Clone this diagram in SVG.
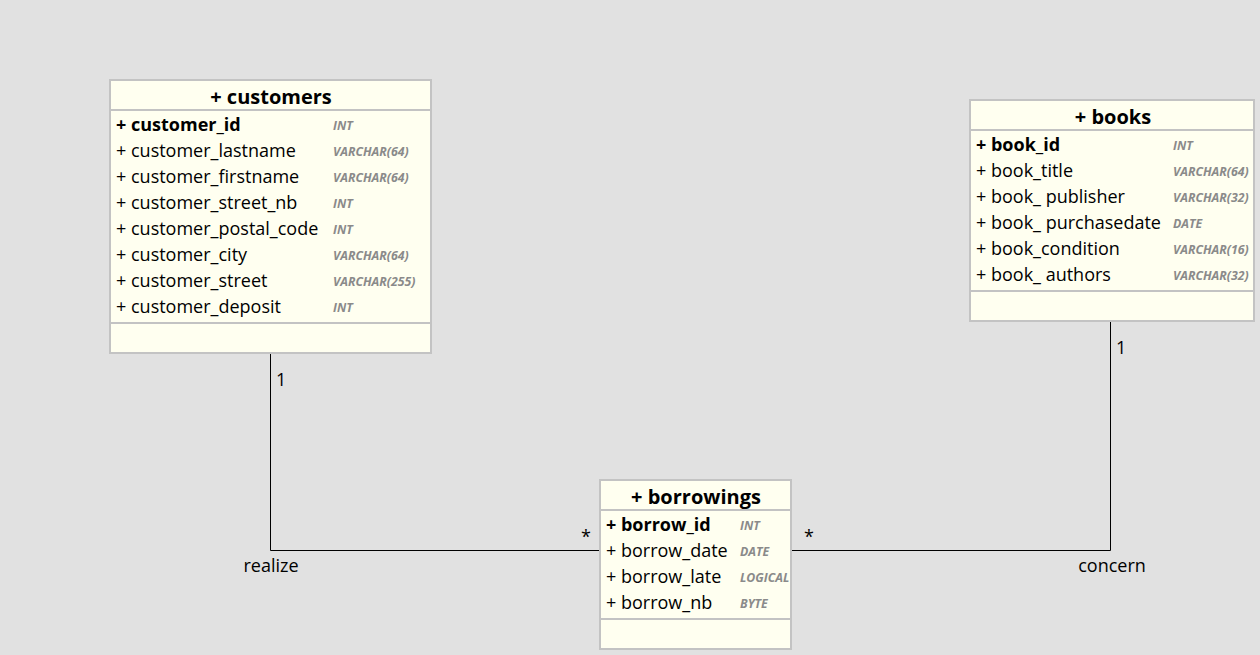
<svg xmlns="http://www.w3.org/2000/svg" width="1260" height="655" viewBox="0 0 1260 655">
<style>
.box{fill:#fffff0;stroke:#c3c3c3;stroke-width:2}
.div{stroke:#c3c3c3;stroke-width:2}
.hd{font-family:"Open Sans",sans-serif;font-weight:bold;font-size:20px;fill:#000;text-anchor:middle}
.f{font-family:"Open Sans",sans-serif;font-size:18px;fill:#000}
.pk{font-weight:bold}
.t{font-family:"Open Sans",sans-serif;font-size:12.3px;font-weight:bold;font-style:italic;fill:#8a8a8a}
.lbl{font-family:"Open Sans",sans-serif;font-size:18px;fill:#000}
.c{fill:none;stroke:#000;stroke-width:1}
</style>
<rect x="0" y="0" width="1260" height="655" fill="#e1e1e1"/>
<g id="connectors">
<polyline class="c" points="270.5,354 270.5,550.5 600,550.5"/>
<polyline class="c" points="791,550.5 1110.5,550.5 1110.5,322"/>
<text class="lbl" x="276" y="386">1</text>
<text class="lbl" x="271" y="572" text-anchor="middle">realize</text>
<text class="lbl" x="581" y="543">*</text>
<text class="lbl" x="804" y="543">*</text>
<text class="lbl" x="1116" y="354">1</text>
<text class="lbl" x="1112" y="572" text-anchor="middle">concern</text>
</g>
<g id="customers">
<rect class="box" x="110" y="80" width="321" height="273"/>
<line class="div" x1="110" y1="110" x2="431" y2="110"/>
<line class="div" x1="110" y1="323" x2="431" y2="323"/>
<text class="hd" x="271" y="104">+ customers</text>
<text class="f pk" x="116" y="131">+ customer_id</text>
<text class="f" x="116" y="157">+ customer_lastname</text>
<text class="f" x="116" y="183">+ customer_firstname</text>
<text class="f" x="116" y="209">+ customer_street_nb</text>
<text class="f" x="116" y="235">+ customer_postal_code</text>
<text class="f" x="116" y="261">+ customer_city</text>
<text class="f" x="116" y="287">+ customer_street</text>
<text class="f" x="116" y="313">+ customer_deposit</text>
<text class="t" x="333" y="130">INT</text>
<text class="t" x="333" y="156">VARCHAR(64)</text>
<text class="t" x="333" y="182">VARCHAR(64)</text>
<text class="t" x="333" y="208">INT</text>
<text class="t" x="333" y="234">INT</text>
<text class="t" x="333" y="260">VARCHAR(64)</text>
<text class="t" x="333" y="286">VARCHAR(255)</text>
<text class="t" x="333" y="312">INT</text>
</g>
<g id="books">
<rect class="box" x="970" y="100" width="284" height="221"/>
<line class="div" x1="970" y1="130" x2="1254" y2="130"/>
<line class="div" x1="970" y1="291" x2="1254" y2="291"/>
<text class="hd" x="1113" y="124">+ books</text>
<text class="f pk" x="976" y="151">+ book_id</text>
<text class="f" x="976" y="177">+ book_title</text>
<text class="f" x="976" y="203">+ book_ publisher</text>
<text class="f" x="976" y="229">+ book_ purchasedate</text>
<text class="f" x="976" y="255">+ book_condition</text>
<text class="f" x="976" y="281">+ book_ authors</text>
<text class="t" x="1173" y="150">INT</text>
<text class="t" x="1173" y="176">VARCHAR(64)</text>
<text class="t" x="1173" y="202">VARCHAR(32)</text>
<text class="t" x="1173" y="228">DATE</text>
<text class="t" x="1173" y="254">VARCHAR(16)</text>
<text class="t" x="1173" y="280">VARCHAR(32)</text>
</g>
<g id="borrowings">
<rect class="box" x="600" y="480" width="191" height="169"/>
<line class="div" x1="600" y1="510" x2="791" y2="510"/>
<line class="div" x1="600" y1="619" x2="791" y2="619"/>
<text class="hd" x="696" y="504">+ borrowings</text>
<text class="f pk" x="606" y="531">+ borrow_id</text>
<text class="f" x="606" y="557">+ borrow_date</text>
<text class="f" x="606" y="583">+ borrow_late</text>
<text class="f" x="606" y="609">+ borrow_nb</text>
<text class="t" x="740" y="530">INT</text>
<text class="t" x="740" y="556">DATE</text>
<text class="t" x="740" y="582">LOGICAL</text>
<text class="t" x="740" y="608">BYTE</text>
</g>
</svg>
